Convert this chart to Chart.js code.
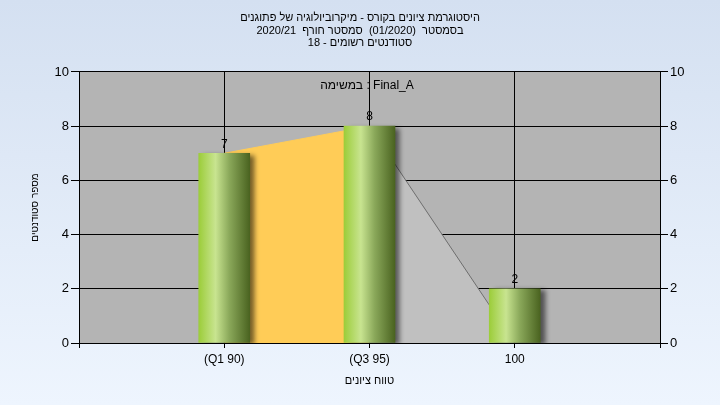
<!DOCTYPE html>
<html>
<head>
<meta charset="utf-8">
<script src="https://cdn.jsdelivr.net/npm/chart.js@4"></script>
<style>
  html, body { margin: 0; padding: 0; }
  body { width: 720px; height: 405px; background: linear-gradient(to bottom, #d4e0f1, #eef5fe); }
  canvas { display: block; }
</style>
</head>
<body>
<canvas id="histChart" width="720" height="405"></canvas>
<script>
// ערכים מהגרף
const categories = ['', '(Q1 90)', '(Q3 95)', '100', ''];
const studentCounts = [null, 7, 8, 2, null];
const areaValues = [null, 7, 8, 0, null];
const yTicks = [0, 2, 4, 6, 8, 10];

const titleLines = [
    'היסטוגרמת ציונים בקורס - מיקרוביולוגיה של פתוגנים',
    'בסמסטר  (01/2020)  סמסטר חורף  2020/21',
    'סטודנטים רשומים - 18'
];
const taskLabel = 'במשימה : Final_A';
const xTitle = 'טווח ציונים';
const yTitle = 'מספר סטודנטים';

const FONT = "'Liberation Sans', Arial, sans-serif";

document.addEventListener("DOMContentLoaded", function () {
    const ctx = document.getElementById('histChart').getContext('2d');

    // רקע אפור לאזור השרטוט
    const plotBackground = {
        id: 'plotBackground',
        beforeDraw(chart) {
            const { ctx, chartArea: a } = chart;
            ctx.save();
            ctx.fillStyle = '#b4b4b4';
            ctx.fillRect(a.left, a.top, a.right - a.left, a.bottom - a.top);
            ctx.restore();
        }
    };

    // צל לעמודות
    const barShadow = {
        id: 'barShadow',
        beforeDatasetDraw(chart, args) {
            if (args.meta.type !== 'bar') return;
            const c = chart.ctx;
            c.save();
            c.shadowColor = 'rgba(0,0,0,0.55)';
            c.shadowBlur = 5;
            c.shadowOffsetX = 5;
            c.shadowOffsetY = 2;
        },
        afterDatasetDraw(chart, args) {
            if (args.meta.type !== 'bar') return;
            chart.ctx.restore();
        }
    };

    // ערכים מעל העמודות + תווית המשימה
    const valueLabels = {
        id: 'valueLabels',
        afterDatasetsDraw(chart) {
            const c = chart.ctx;
            c.save();
            c.font = '12px ' + FONT;
            c.fillStyle = '#000';
            c.textAlign = 'center';
            c.textBaseline = 'bottom';
            const meta = chart.getDatasetMeta(1);
            meta.data.forEach((bar, i) => {
                const v = studentCounts[i];
                if (v === null) return;
                c.fillText(String(v), bar.x, bar.y - 3);
            });
            c.textBaseline = 'middle';
            c.fillText(taskLabel, 367, 86);
            c.restore();
        }
    };

    function barGradient(context) {
        const chart = context.chart;
        if (context.type !== 'data' || !chart.scales.x) return '#9acb3c';
        const x = chart.scales.x.getPixelForValue(context.dataIndex);
        if (!isFinite(x)) return '#9acb3c';
        const half = 25.5;
        const g = chart.ctx.createLinearGradient(x - half, 0, x + half, 0);
        g.addColorStop(0, '#9ccd3a');
        g.addColorStop(0.33, '#c8e490');
        g.addColorStop(0.6, '#8aa85a');
        g.addColorStop(1, '#4a6320');
        return g;
    }

    new Chart(ctx, {
        data: {
            labels: categories,
            datasets: [{
                type: 'line',
                data: areaValues,
                fill: 'origin',
                order: 2,
                pointRadius: 0,
                borderWidth: 1,
                tension: 0,
                backgroundColor: '#ffcc57',
                borderColor: '#ffcc57',
                segment: {
                    backgroundColor: c => c.p0DataIndex === 1 ? '#ffcc57' : '#c0c0c0',
                    borderColor: c => c.p0DataIndex === 1 ? '#ffcc57' : '#6e6e6e'
                }
            }, {
                type: 'bar',
                data: studentCounts,
                order: 1,
                backgroundColor: barGradient,
                borderWidth: 0,
                barThickness: 51
            }]
        },
        options: {
            responsive: false,
            animation: false,
            layout: { padding: 0 },
            plugins: {
                legend: { display: false },
                tooltip: { enabled: false },
                title: {
                    display: true,
                    text: titleLines,
                    color: '#000',
                    font: { family: FONT, size: 11, weight: 'normal', lineHeight: 1.18 },
                    padding: { top: 11, bottom: 22 }
                }
            },
            scales: {
                x: {
                    type: 'category',
                    offset: false,
                    grid: { color: '#000', offset: false, tickLength: 5 },
                    border: { color: '#000' },
                    ticks: { color: '#000', font: { family: FONT, size: 12 }, padding: 4, autoSkip: false, maxRotation: 0 },
                    title: { display: true, text: xTitle, color: '#000', font: { family: FONT, size: 11 }, padding: { bottom: 17 } },
                    afterFit(scale) { scale.height = 62; }
                },
                y: {
                    position: 'left',
                    min: 0,
                    max: 10,
                    afterBuildTicks(scale) { scale.ticks = yTicks.map(v => ({ value: v })); },
                    grid: { color: '#000', tickLength: 8 },
                    border: { color: '#000' },
                    ticks: { color: '#000', font: { family: FONT, size: 13 }, padding: 2 },
                    title: { display: true, text: yTitle, color: '#000', font: { family: FONT, size: 10 }, padding: { top: 29 } },
                    afterFit(scale) { scale.width = 79; }
                },
                y2: {
                    position: 'right',
                    min: 0,
                    max: 10,
                    afterBuildTicks(scale) { scale.ticks = yTicks.map(v => ({ value: v })); },
                    grid: { color: '#000', drawOnChartArea: false, tickLength: 8 },
                    border: { color: '#000' },
                    ticks: { color: '#000', font: { family: FONT, size: 13 }, padding: 2 },
                    afterFit(scale) { scale.width = 60; }
                }
            }
        },
        plugins: [plotBackground, barShadow, valueLabels]
    });
});
</script>
</body>
</html>
